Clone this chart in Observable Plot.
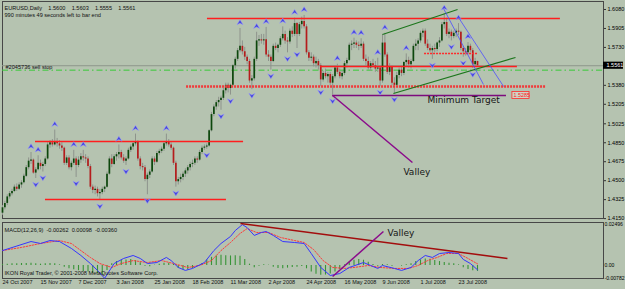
<!DOCTYPE html>
<html><head><meta charset="utf-8">
<script src="https://cdn.jsdelivr.net/npm/d3@7"></script>
<script src="https://cdn.jsdelivr.net/npm/@observablehq/plot@0.6"></script>
<style>
html,body{margin:0;padding:0;background:#b5c3b0;}
#chart{position:relative;width:625px;height:289px;background:#b5c3b0;overflow:hidden;}
#chart svg{position:absolute;left:0;display:block;}
</style></head><body>
<div id="chart"></div>
<script>
// ---- Daily EURUSD candles (bar index 0 = 24 Oct 2007) ----
const opens = [
1.4200,1.4250,1.4290,1.4350,1.4380,1.4400,1.4440,1.4420,1.4460,1.4480,
1.4540,1.4620,1.4680,1.4690,1.4570,1.4600,1.4660,1.4630,1.4650,1.4700,
1.4830,1.4850,1.4830,1.4860,1.4840,1.4820,1.4800,1.4660,1.4710,1.4620,
1.4660,1.4700,1.4640,1.4690,1.4720,1.4710,1.4700,1.4630,1.4440,1.4410,
1.4420,1.4380,1.4390,1.4420,1.4440,1.4560,1.4700,1.4650,1.4720,1.4740,
1.4760,1.4710,1.4680,1.4700,1.4780,1.4810,1.4840,1.4860,1.4700,1.4630,
1.4620,1.4510,1.4550,1.4580,1.4700,1.4670,1.4750,1.4770,1.4790,1.4840,
1.4860,1.4830,1.4800,1.4660,1.4490,1.4510,1.4530,1.4560,1.4590,1.4620,
1.4650,1.4660,1.4700,1.4690,1.4760,1.4800,1.4810,1.4820,1.4960,1.5110,
1.5180,1.5220,1.5240,1.5260,1.5330,1.5380,1.5350,1.5380,1.5560,1.5620,
1.5700,1.5740,1.5690,1.5640,1.5600,1.5420,1.5440,1.5620,1.5790,1.5800,
1.5790,1.5800,1.5660,1.5640,1.5600,1.5740,1.5720,1.5750,1.5810,1.5850,
1.5790,1.5780,1.5880,1.5850,1.5950,1.5850,1.5940,1.5970,1.5920,1.5680,
1.5630,1.5640,1.5580,1.5600,1.5560,1.5430,1.5490,1.5460,1.5480,1.5400,
1.5460,1.5540,1.5500,1.5460,1.5490,1.5580,1.5610,1.5750,1.5760,1.5770,
1.5750,1.5740,1.5760,1.5620,1.5600,1.5540,1.5580,1.5560,1.5530,1.5540,
1.5420,1.5770,1.5660,1.5500,1.5550,1.5400,1.5380,1.5470,1.5520,1.5490,
1.5590,1.5610,1.5570,1.5600,1.5740,1.5760,1.5790,1.5860,1.5880,1.5760,
1.5720,1.5700,1.5720,1.5710,1.5770,1.5790,1.5940,1.5960,1.5850,1.5870,
1.5830,1.5860,1.5880,1.5870,1.5720,1.5690,1.5680,1.5740,1.5700,1.5570,
1.5600];
const highs = [
1.4270,1.4310,1.4370,1.4400,1.4420,1.4460,1.4470,1.4480,1.4500,1.4560,
1.4640,1.4710,1.4760,1.4700,1.4620,1.4730,1.4690,1.4670,1.4720,1.4850,
1.4870,1.4880,1.4967,1.4890,1.4870,1.4850,1.4810,1.4730,1.4730,1.4680,
1.4780,1.4720,1.4720,1.4750,1.4780,1.4740,1.4720,1.4650,1.4460,1.4450,
1.4440,1.4420,1.4440,1.4450,1.4580,1.4720,1.4740,1.4740,1.4760,1.4830,
1.4780,1.4740,1.4720,1.4800,1.4830,1.4860,1.4930,1.4870,1.4720,1.4660,
1.4640,1.4570,1.4600,1.4720,1.4720,1.4770,1.4790,1.4810,1.4860,1.4930,
1.4880,1.4850,1.4810,1.4680,1.4530,1.4560,1.4580,1.4610,1.4640,1.4670,
1.4690,1.4720,1.4720,1.4780,1.4820,1.4830,1.4840,1.4970,1.5130,1.5200,
1.5240,1.5270,1.5280,1.5350,1.5400,1.5400,1.5390,1.5570,1.5640,1.5720,
1.5905,1.5790,1.5730,1.5660,1.5620,1.5470,1.5640,1.5870,1.5840,1.5850,
1.5850,1.5915,1.5700,1.5660,1.5760,1.5770,1.5760,1.5830,1.5920,1.5880,
1.5820,1.5900,1.5920,1.6000,1.5960,1.5960,1.6010,1.6025,1.5940,1.5700,
1.5680,1.5660,1.5640,1.5620,1.5580,1.5510,1.5530,1.5500,1.5500,1.5480,
1.5560,1.5575,1.5530,1.5510,1.5600,1.5630,1.5770,1.5790,1.5815,1.5790,
1.5780,1.5810,1.5780,1.5660,1.5640,1.5600,1.5620,1.5600,1.5630,1.5560,
1.5850,1.5860,1.5680,1.5580,1.5560,1.5450,1.5500,1.5540,1.5560,1.5600,
1.5670,1.5640,1.5620,1.5760,1.5800,1.5810,1.5880,1.5900,1.5900,1.5800,
1.5760,1.5740,1.5760,1.5780,1.5820,1.5960,1.6040,1.6000,1.5900,1.5890,
1.5880,1.5900,1.5950,1.5880,1.5740,1.5720,1.5775,1.5760,1.5720,1.5630,
1.5603];
const lows = [
1.4180,1.4230,1.4270,1.4330,1.4360,1.4390,1.4400,1.4410,1.4430,1.4470,
1.4530,1.4600,1.4650,1.4560,1.4520,1.4590,1.4600,1.4580,1.4630,1.4690,
1.4800,1.4810,1.4820,1.4810,1.4790,1.4770,1.4640,1.4640,1.4600,1.4590,
1.4640,1.4530,1.4620,1.4660,1.4680,1.4660,1.4610,1.4420,1.4380,1.4370,
1.4350,1.4320,1.4370,1.4390,1.4430,1.4550,1.4620,1.4640,1.4680,1.4700,
1.4690,1.4660,1.4640,1.4690,1.4760,1.4780,1.4820,1.4680,1.4600,1.4590,
1.4490,1.4370,1.4520,1.4570,1.4640,1.4660,1.4730,1.4750,1.4770,1.4820,
1.4810,1.4780,1.4640,1.4440,1.4460,1.4480,1.4500,1.4530,1.4560,1.4590,
1.4620,1.4640,1.4660,1.4680,1.4740,1.4780,1.4790,1.4810,1.4950,1.5090,
1.5150,1.5180,1.5150,1.5240,1.5300,1.5310,1.5290,1.5370,1.5530,1.5600,
1.5680,1.5660,1.5610,1.5570,1.5400,1.5340,1.5420,1.5600,1.5740,1.5760,
1.5750,1.5640,1.5600,1.5520,1.5590,1.5700,1.5680,1.5730,1.5790,1.5760,
1.5680,1.5760,1.5820,1.5830,1.5720,1.5830,1.5900,1.5900,1.5660,1.5600,
1.5600,1.5550,1.5540,1.5520,1.5370,1.5410,1.5440,1.5400,1.5380,1.5290,
1.5440,1.5480,1.5440,1.5430,1.5470,1.5540,1.5600,1.5700,1.5720,1.5720,
1.5700,1.5720,1.5600,1.5560,1.5520,1.5510,1.5540,1.5500,1.5500,1.5370,
1.5400,1.5640,1.5480,1.5470,1.5380,1.5305,1.5360,1.5440,1.5460,1.5470,
1.5550,1.5540,1.5530,1.5590,1.5700,1.5700,1.5770,1.5820,1.5740,1.5700,
1.5680,1.5620,1.5680,1.5690,1.5730,1.5780,1.5900,1.5830,1.5810,1.5790,
1.5810,1.5820,1.5840,1.5700,1.5640,1.5650,1.5660,1.5680,1.5535,1.5550,
1.5555];
const closes = [
1.4250,1.4290,1.4350,1.4380,1.4400,1.4440,1.4420,1.4460,1.4480,1.4540,
1.4620,1.4680,1.4690,1.4570,1.4600,1.4660,1.4630,1.4650,1.4700,1.4830,
1.4850,1.4830,1.4860,1.4840,1.4820,1.4800,1.4660,1.4710,1.4620,1.4660,
1.4700,1.4640,1.4690,1.4720,1.4710,1.4700,1.4630,1.4440,1.4410,1.4420,
1.4380,1.4390,1.4420,1.4440,1.4560,1.4700,1.4650,1.4720,1.4740,1.4760,
1.4710,1.4680,1.4700,1.4780,1.4810,1.4840,1.4860,1.4700,1.4630,1.4620,
1.4510,1.4550,1.4580,1.4700,1.4670,1.4750,1.4770,1.4790,1.4840,1.4860,
1.4830,1.4800,1.4660,1.4490,1.4510,1.4530,1.4560,1.4590,1.4620,1.4650,
1.4660,1.4700,1.4690,1.4760,1.4800,1.4810,1.4820,1.4960,1.5110,1.5180,
1.5220,1.5240,1.5260,1.5330,1.5380,1.5350,1.5380,1.5560,1.5620,1.5700,
1.5740,1.5690,1.5640,1.5600,1.5420,1.5440,1.5620,1.5790,1.5800,1.5790,
1.5800,1.5660,1.5640,1.5600,1.5740,1.5720,1.5750,1.5810,1.5850,1.5790,
1.5780,1.5880,1.5850,1.5950,1.5850,1.5940,1.5970,1.5920,1.5680,1.5630,
1.5640,1.5580,1.5600,1.5560,1.5430,1.5490,1.5460,1.5480,1.5400,1.5460,
1.5540,1.5500,1.5460,1.5490,1.5580,1.5610,1.5750,1.5760,1.5770,1.5750,
1.5740,1.5760,1.5620,1.5600,1.5540,1.5580,1.5560,1.5530,1.5540,1.5420,
1.5770,1.5660,1.5500,1.5550,1.5400,1.5380,1.5470,1.5520,1.5490,1.5590,
1.5610,1.5570,1.5600,1.5740,1.5760,1.5790,1.5860,1.5880,1.5760,1.5720,
1.5700,1.5720,1.5710,1.5770,1.5790,1.5940,1.5960,1.5850,1.5870,1.5830,
1.5860,1.5880,1.5870,1.5720,1.5690,1.5680,1.5740,1.5700,1.5570,1.5600,
1.5561];

// fractal bars
const upFractals = [12,15,22,30,34,49,56,69,100,107,111,118,123,127,141,148,151,158,161,170,186,192,196];
const downFractals = [14,17,31,41,52,61,73,86,92,96,105,113,120,124,134,139,159,165,181,189,194,198];

// date axis
const dateIdx = [0,16,32,48,64,80,96,112,128,144,160,176,192];
const dateLabels = ["24 Oct 2007","15 Nov 2007","7 Dec 2007","3 Jan 2008","25 Jan 2008","18 Feb 2008","11 Mar 2008","2 Apr 2008","24 Apr 2008","16 May 2008","9 Jun 2008","1 Jul 2008","23 Jul 2008"];
const priceTicks = [1.6080,1.5905,1.5730,1.5380,1.5205,1.5025,1.4850,1.4675,1.4500,1.4325,1.4150];
const macdTicks = [0.02496,0,-0.00782];

// horizontal levels: start bar, end bar, price
const levelFrom  = [86.3, 133.9, 177.7, 77.5, 13.9, 18.1];
const levelTo    = [234.9, 216.8, 200.0, 229.0, 101.5, 94.3];
const levelPrice = [1.5997, 1.5554, 1.5674, 1.5369, 1.4862, 1.4326];
const levelKind  = ["solid","solid","dotted","thick","solid","solid"];
const bidPrice = 1.5561;
const sellStopPrice = 1.5520;
const targetPrice = 1.5286;
const targetFrom = 139, targetTo = 212.2;

// trend lines (bar, price)
const greenUpper = [160, 1.5849, 191.6, 1.6080];
const greenLower = [164.6, 1.5305, 216, 1.5637];
const blueA = [185.7, 1.6089, 202.5, 1.5388];
const blueB = [192, 1.6006, 211, 1.5369];
const valleyMain = [139, 1.5286, 172.6, 1.4668];

// MACD(12,26,9)
const macdIdx = [0,12,16,20,24,29,33,37,40,43,47,51,55,58,61,65,69,71,74,77,80,85,89,92,96,98,101,103,106,109,111,114,118,123,127,130,134,138,142,146,152,155,158,160,165,168,172,175,178,181,184,188,192,194,197,200];
const macdVals = [0.0091,0.0146,0.0134,0.0152,0.0146,0.0104,0.0061,0.0012,-0.0030,-0.0078,0.0012,0.0043,0.0061,0.0043,0.0012,0.0018,0.0049,0.0030,-0.0012,-0.0030,-0.0018,0.0018,0.0091,0.0134,0.0177,0.0213,0.0249,0.0231,0.0183,0.0201,0.0207,0.0183,0.0146,0.0140,0.0134,0.0073,-0.0012,-0.0061,-0.0049,-0.0012,0.0018,0.0000,-0.0018,0.0000,-0.0018,-0.0030,-0.0012,0.0030,0.0061,0.0049,0.0073,0.0079,0.0073,0.0037,0.0012,-0.0026];
const sigIdx = [0,8,16,24,29,33,37,41,46,50,55,61,67,72,78,83,88,92,96,100,103,107,112,117,123,127,131,135,139,144,148,154,159,165,171,175,179,183,187,192,196,200];
const sigVals = [0.0091,0.0110,0.0134,0.0152,0.0134,0.0091,0.0049,0.0012,-0.0012,0.0012,0.0030,0.0018,0.0030,0.0012,-0.0012,0.0000,0.0030,0.0091,0.0140,0.0195,0.0225,0.0201,0.0201,0.0171,0.0152,0.0140,0.0097,0.0030,-0.0012,-0.0018,-0.0012,0.0000,-0.0012,-0.0018,-0.0018,0.0000,0.0030,0.0049,0.0073,0.0073,0.0043,0.0010];
const histIdx = [0,2,4,6,8,10,12,14,16,18,20,22,24,26,28,30,32,34,36,38,40,42,44,46,48,50,52,54,56,58,60,62,64,66,68,70,72,74,76,78,80,82,84,86,88,90,92,94,96,98,100,102,104,106,108,110,112,114,116,118,120,122,124,126,128,130,132,134,136,138,140,142,144,146,148,150,152,154,156,158,160,162,164,166,168,170,172,174,176,178,180,182,184,186,188,190,192,194,196,198,200];
const histVals = [0.0006,0.0008,0.0010,0.0010,0.0012,0.0012,0.0014,0.0010,0.0008,0.0010,
0.0012,0.0010,0.0004,-0.0010,-0.0020,-0.0026,-0.0032,-0.0036,-0.0040,-0.0048,
-0.0050,-0.0058,-0.0030,0.0010,0.0024,0.0030,0.0034,0.0036,0.0030,0.0016,
-0.0004,-0.0008,0.0002,0.0008,0.0014,0.0014,0.0006,-0.0018,-0.0026,-0.0028,
-0.0018,-0.0004,0.0012,0.0034,0.0050,0.0058,0.0062,0.0060,0.0058,0.0060,
0.0056,0.0036,0.0008,-0.0014,-0.0004,0.0004,0.0002,-0.0010,-0.0018,-0.0020,
-0.0016,-0.0012,-0.0010,-0.0006,-0.0020,-0.0040,-0.0054,-0.0060,-0.0058,-0.0052,
-0.0040,-0.0024,0.0004,0.0020,0.0032,0.0036,0.0032,0.0020,0.0006,-0.0004,
0.0006,0.0004,-0.0004,0.0000,-0.0004,0.0004,0.0010,0.0024,0.0034,0.0040,
0.0038,0.0030,0.0024,0.0018,0.0014,0.0010,0.0004,-0.0014,-0.0024,-0.0032,
-0.0036];
const macdTrend = [100.2, 0.0256, 212.6, 0.0043];
const valleyMacd = [139, -0.0067, 160.4, 0.0207];

// ---- build tables ----
const candles = closes.map((c, k) => ({i: k, o: opens[k], h: highs[k], l: lows[k], c}));
const bull = candles.filter(d => d.c >= d.o);
const bear = candles.filter(d => d.c < d.o);
const ups = upFractals.map(k => candles[k]);
const downs = downFractals.map(k => candles[k]);
const levels = levelPrice.map((p, k) => ({x1: levelFrom[k], x2: levelTo[k], p, kind: levelKind[k]}));
const seg = a => ({x1: a[0], y1: a[1], x2: a[2], y2: a[3]});
const dates = dateIdx.map((i, k) => ({i, label: dateLabels[k]}));
const macd = macdIdx.map((i, k) => ({i, v: macdVals[k]}));
const sig = sigIdx.map((i, k) => ({i, v: sigVals[k]}));
const hist = histIdx.map((i, k) => ({i, v: histVals[k]}));
const last = candles[candles.length - 1];

const xDomain = [0, 253.05];
const FONT = '"Liberation Sans", Arial, sans-serif';

const arrowUp = {draw(ctx, size) { const r = Math.sqrt(size / Math.PI);
  ctx.moveTo(0, -r); ctx.lineTo(r * 1.15, r * 0.85); ctx.lineTo(0, r * 0.25); ctx.lineTo(-r * 1.15, r * 0.85); ctx.closePath(); }};
const arrowDown = {draw(ctx, size) { const r = Math.sqrt(size / Math.PI);
  ctx.moveTo(0, r); ctx.lineTo(r * 1.15, -r * 0.85); ctx.lineTo(0, -r * 0.25); ctx.lineTo(-r * 1.15, -r * 0.85); ctx.closePath(); }};

const mainSvg = Plot.plot({
  width: 625, height: 220,
  marginLeft: 2, marginRight: 22, marginTop: 1, marginBottom: 2,
  style: {background: "transparent", fontFamily: FONT, fontSize: "5.5px", color: "#000"},
  x: {domain: xDomain, axis: null},
  y: {domain: [1.41509, 1.61538], label: null},
  marks: [
    Plot.frame({stroke: "#474747"}),
    Plot.ruleY([bidPrice], {stroke: "#8d968b", strokeWidth: 1}),
    Plot.ruleY([sellStopPrice], {stroke: "#39c839", strokeWidth: 1, strokeDasharray: "6,3,1.5,3"}),
    Plot.ruleX(candles, {x: "i", y1: "l", y2: "h", stroke: "#8e938c", strokeWidth: 1}),
    Plot.ruleX(bull, {x: "i", y1: "o", y2: "c", stroke: "#0c470c", strokeWidth: 1.7}),
    Plot.ruleX(bear, {x: "i", y1: "o", y2: "c", stroke: "#b51c1c", strokeWidth: 1.7}),
    Plot.ruleY(levels.filter(d => d.kind === "solid"), {y: "p", x1: "x1", x2: "x2", stroke: "#ff1e1e", strokeWidth: 1.6}),
    Plot.ruleY(levels.filter(d => d.kind === "dotted"), {y: "p", x1: "x1", x2: "x2", stroke: "#ff2a2a", strokeWidth: 1.5, strokeDasharray: "2,1"}),
    Plot.ruleY(levels.filter(d => d.kind === "thick"), {y: "p", x1: "x1", x2: "x2", stroke: "#f03a3a", strokeWidth: 2.6, strokeDasharray: "2,1"}),
    Plot.ruleY([targetPrice], {y: d => d, x1: targetFrom, x2: targetTo, stroke: "#7d0b7d", strokeWidth: 1.3}),
    Plot.link([seg(valleyMain)], {x1: "x1", y1: "y1", x2: "x2", y2: "y2", stroke: "#8b0a8b", strokeWidth: 1.5}),
    Plot.link([seg(greenUpper), seg(greenLower)], {x1: "x1", y1: "y1", x2: "x2", y2: "y2", stroke: "#1c761c", strokeWidth: 1.2}),
    Plot.link([seg(blueA), seg(blueB)], {x1: "x1", y1: "y1", x2: "x2", y2: "y2", stroke: "#4d4dff", strokeWidth: 0.8}),
    Plot.dot(ups, {x: "i", y: "h", symbol: arrowUp, r: 2.7, dy: -6, fill: "#4343dc", stroke: "#9a9aff", strokeWidth: 0.5}),
    Plot.dot(downs, {x: "i", y: "l", symbol: arrowDown, r: 2.7, dy: 6, fill: "#4343dc", stroke: "#9a9aff", strokeWidth: 0.5}),
    Plot.text(["EURUSD,Daily    1.5600    1.5603    1.5555    1.5561"], {text: d => d, frameAnchor: "top-left", dx: 2, dy: 5, textAnchor: "start", fontSize: 5.6, fill: "#111"}),
    Plot.text(["990 minutes 49 seconds left to bar end"], {text: d => d, frameAnchor: "top-left", dx: 2, dy: 12, textAnchor: "start", fontSize: 5.6, fill: "#111"}),
    Plot.text([sellStopPrice], {y: d => d, text: () => "#2045736 sell stop", frameAnchor: "left", dx: 3, dy: -3, textAnchor: "start", fontSize: 5.6, fill: "#111"}),
    Plot.text([{i: 178.9, p: 1.5240, t: "Minimum Target"}, {i: 168.8, p: 1.4576, t: "Valley"}], {x: "i", y: "p", text: "t", textAnchor: "start", fontFamily: "DejaVu Sans, sans-serif", fontSize: 9, fill: "#151515"}),
    Plot.rect([targetPrice], {x1: 214.7, x2: 221.9, y1: d => d - 0.0033, y2: d => d + 0.0033, fill: "#cfd3c6", stroke: "#ff2a2a", strokeWidth: 0.8}),
    Plot.text([targetPrice], {x: 214.7, y: d => d, text: () => "1.5285", dx: 1, textAnchor: "start", fill: "#ff2020", fontSize: 5.4}),
    Plot.rect([last], {x1: xDomain[1], x2: xDomain[1] + 8.4, y1: d => d.c - 0.0033, y2: d => d.c + 0.0033, fill: "#000"}),
    Plot.text([last], {x: xDomain[1], y: "c", text: d => d.c.toFixed(4), dx: 3, textAnchor: "start", fill: "#fff", fontSize: 5.5}),
    Plot.axisY({anchor: "right", ticks: priceTicks, tickFormat: d => d.toFixed(4), tickSize: 2, tickPadding: 2, label: null, fontSize: 5.5, stroke: "#333"})
  ]
});

const macdSvg = Plot.plot({
  width: 625, height: 70,
  marginLeft: 2, marginRight: 22, marginTop: 3, marginBottom: 11,
  style: {background: "transparent", fontFamily: FONT, fontSize: "5.2px", color: "#000"},
  x: {domain: xDomain, axis: null},
  y: {domain: [-0.00792, 0.02619], label: null},
  marks: [
    Plot.frame({stroke: "#474747"}),
    Plot.ruleX(hist, {x: "i", y1: 0, y2: "v", stroke: "#379437", strokeWidth: 1.1}),
    Plot.line(sig, {x: "i", y: "v", stroke: "#ff3a3a", strokeWidth: 1, strokeDasharray: "1.5,1.5"}),
    Plot.line(macd, {x: "i", y: "v", stroke: "#3535ff", strokeWidth: 1}),
    Plot.link([seg(macdTrend)], {x1: "x1", y1: "y1", x2: "x2", y2: "y2", stroke: "#a30d0d", strokeWidth: 1.5}),
    Plot.link([seg(valleyMacd)], {x1: "x1", y1: "y1", x2: "x2", y2: "y2", stroke: "#8b0a8b", strokeWidth: 1.5}),
    Plot.text([{i: 162.1, v: 0.0195, t: "Valley"}], {x: "i", y: "v", text: "t", textAnchor: "start", fontFamily: "DejaVu Sans, sans-serif", fontSize: 9, fill: "#151515"}),
    Plot.text(["MACD(12,26,9)  -0.00262  0.00098  -0.00360"], {text: d => d, frameAnchor: "top-left", dx: 2, dy: 6, textAnchor: "start", fontSize: 5.6, fill: "#111"}),
    Plot.text(["IKON Royal Trader, © 2001-2008 MetaQuotes Software Corp."], {text: d => d, frameAnchor: "bottom-left", dx: 2, dy: -4, textAnchor: "start", fontSize: 5.6, fill: "#111"}),
    Plot.text(dates, {x: "i", text: "label", frameAnchor: "bottom", dy: 5.5, textAnchor: "start", fontSize: 5.5, fill: "#111"}),
    Plot.axisY({anchor: "right", ticks: macdTicks, tickFormat: d => d === 0 ? "0.00" : d.toFixed(5), tickSize: 0, tickPadding: 1, label: null, fontSize: 5.1})
  ]
});

mainSvg.style.top = "0px";
macdSvg.style.top = "219px";
document.getElementById("chart").append(mainSvg, macdSvg);
</script>
</body></html>
